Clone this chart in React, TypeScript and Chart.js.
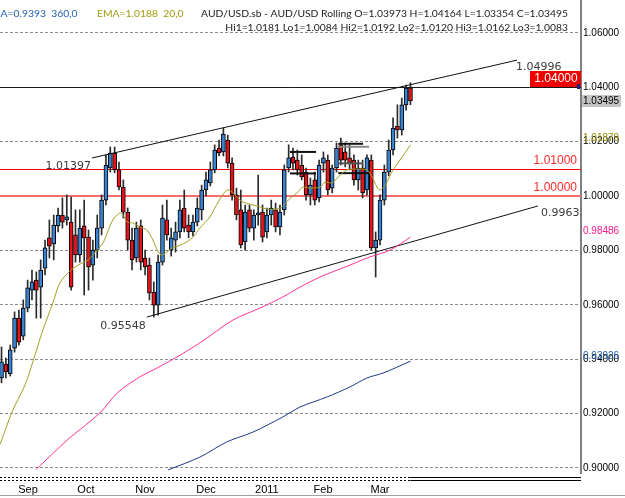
import React, { useEffect, useRef } from 'react';
import { Chart, registerables } from 'chart.js';
Chart.register(...registerables);

// ---- Candles (AUD/USD daily-ish) ----
const opens = [0.9331,0.9382,0.9346,0.9441,0.9551,0.9485,0.9588,0.9654,0.9691,0.9665,
0.9735,0.9846,0.9824,0.9890,0.9930,0.9912,0.9904,0.9857,0.9783,0.9890,
0.9849,0.9746,0.9801,0.9882,0.9985,1.0103,1.0158,1.0096,1.0033,0.9941,
0.9838,0.9772,0.9890,0.9772,0.9746,0.9647,0.9599,0.9757,0.9912,0.9801,
0.9838,0.9868,0.9956,0.9893,0.9868,0.9904,0.9949,1.0022,1.0048,1.0096,
1.0176,1.0162,1.0206,1.0121,1.0004,0.9949,0.9831,0.9949,0.9882,0.9930,
0.9941,0.9868,0.9930,0.9949,0.9886,0.9949,1.0103,1.0143,1.0132,1.0114,
1.0088,1.0004,1.0059,0.9993,1.0121,1.0132,1.0029,1.0103,1.0188,1.0162,
1.0140,1.0132,1.0059,1.0103,1.0022,1.0132,0.9809,0.9838,0.9985,1.0088,
1.0169,1.0257,1.0243,1.0335,1.03973];
const closes = [0.9390,0.9353,0.9434,0.9551,0.9463,0.9588,0.9662,0.9684,0.9654,0.9728,
0.9809,0.9816,0.9893,0.9930,0.9904,0.9923,0.9665,0.9783,0.9882,0.9846,
0.9739,0.9801,0.9882,0.9985,1.0114,1.0158,1.0096,1.0033,0.9941,0.9838,
0.9765,0.9882,0.9757,0.9739,0.9643,0.9599,0.9757,0.9919,0.9857,0.9846,
0.9868,0.9949,0.9882,0.9868,0.9904,0.9956,1.0022,1.0059,1.0096,1.0169,
1.0158,1.0228,1.0121,1.0004,0.9930,0.9820,0.9941,0.9882,0.9930,0.9938,
0.9849,0.9930,0.9956,0.9886,0.9941,1.0096,1.0140,1.0121,1.0096,1.0070,
1.0004,1.0040,0.9985,1.0114,1.0140,1.0022,1.0103,1.0176,1.0132,1.0132,
1.0121,1.0059,1.0103,1.0011,1.0140,0.9809,0.9838,0.9985,1.0088,1.0169,
1.0250,1.0243,1.0335,1.0397,1.03495];
const highs = [0.9445,0.9404,0.9452,0.9574,0.9581,0.9618,0.9691,0.9728,0.9721,0.9765,
0.9838,0.9912,0.9930,0.9956,0.9993,1.0004,0.9996,0.9949,0.9949,0.9985,
0.9875,0.9838,0.9930,1.0004,1.0151,1.0180,1.0180,1.0125,1.0059,0.9956,
0.9882,0.9904,0.9912,0.9801,0.9772,0.9684,0.9783,0.9967,0.9985,0.9882,
0.9904,0.9985,1.0022,0.9930,0.9930,0.9993,1.0040,1.0088,1.0125,1.0188,
1.0206,1.0250,1.0224,1.0140,1.0029,1.0022,0.9967,0.9967,0.9949,1.0077,
0.9967,0.9956,0.9985,0.9974,0.9967,1.0114,1.0188,1.0176,1.0169,1.0151,
1.0103,1.0066,1.0088,1.0132,1.0162,1.0151,1.0114,1.0195,1.0213,1.0195,
1.0188,1.0151,1.0132,1.0132,1.0151,1.0151,0.9868,1.0004,1.0114,1.0206,
1.0287,1.0335,1.0360,1.0408,1.04164];
const lows = [0.9313,0.9331,0.9338,0.9426,0.9452,0.9471,0.9574,0.9618,0.9551,0.9551,
0.9710,0.9772,0.9765,0.9868,0.9882,0.9893,0.9654,0.9757,0.9757,0.9636,
0.9654,0.9691,0.9772,0.9857,0.9967,1.0088,1.0085,1.0022,0.9919,0.9801,
0.9728,0.9757,0.9728,0.9710,0.9618,0.9555,0.9562,0.9746,0.9838,0.9779,
0.9794,0.9846,0.9868,0.9846,0.9853,0.9890,0.9912,1.0000,1.0037,1.0085,
1.0147,1.0147,1.0103,0.9985,0.9912,0.9809,0.9801,0.9868,0.9838,0.9893,
0.9831,0.9846,0.9893,0.9868,0.9857,0.9930,1.0088,1.0096,1.0077,1.0059,
0.9985,0.9967,0.9967,0.9978,1.0088,1.0004,1.0011,1.0088,1.0114,1.0107,
1.0096,1.0040,1.0022,0.9993,1.0004,0.9801,0.9702,0.9820,0.9967,1.0074,
1.0151,1.0213,1.0224,1.0316,1.03354];

// ---- Indicators (index along candle axis, value) ----
const emaIndex = [-0.3,2.6,5.4,7.2,9.5,11.8,13.4,15.7,17.6,19.9,21.0,23.3,24.3,25.6,27.2,27.9,28.9,30.2,31.8,33.4,34.8,36.0,36.9,38.0,39.2,40.6,42.6,44.0,45.6,47.9,49.8,51.8,53.0,54.1,55.5,57.8,59.4,61.0,63.3,64.5,65.9,67.9,69.3,70.9,73.2,74.4,76.0,77.4,79.4,81.7,84.0,85.2,86.3,87.0,88.2,90.0,91.6,94];
const emaValues = [0.9088,0.9213,0.9305,0.9390,0.9507,0.9607,0.9680,0.9724,0.9746,0.9765,0.9783,0.9827,0.9864,0.9912,0.9938,0.9930,0.9904,0.9901,0.9886,0.9875,0.9838,0.9794,0.9783,0.9794,0.9809,0.9816,0.9831,0.9849,0.9882,0.9923,0.9978,1.0022,1.0015,0.9996,0.9978,0.9967,0.9960,0.9952,0.9952,0.9960,0.9985,1.0011,1.0033,1.0029,1.0033,1.0051,1.0048,1.0070,1.0096,1.0099,1.0096,1.0070,1.0033,1.0022,1.0040,1.0096,1.0132,1.01879];
const pinkIndex = [8.0,15.1,22.6,26.6,31.8,35.8,40.3,45.6,53.2,59.4,64.7,68.6,73.2,80.1,84.7,89.3,94];
const pinkValues = [0.8995,0.9103,0.9202,0.9276,0.9335,0.9368,0.9408,0.9460,0.9544,0.9588,0.9629,0.9665,0.9702,0.9746,0.9776,0.9801,0.98486];
const blueIndex = [38.3,45.6,51.8,57.8,64.7,68.6,74.8,80.1,84.0,87.7,94];
const blueValues = [0.8993,0.9040,0.9096,0.9132,0.9188,0.9224,0.9261,0.9298,0.9331,0.9349,0.93926];

// ---- Channel trend lines ----
const upperIdx = [20.8, 118.5];
const upperVal = [1.01397, 1.04996];
const lowerIdx = [33.4, 123.3];
const lowerVal = [0.95548, 0.99633];

// ---- Hi/Lo box levels ----
const hiLoNames = ['Hi1','Lo1','Hi2','Lo2','Hi3','Lo3'];
const hiLoValues = [1.0181, 1.0084, 1.0192, 1.0120, 1.0162, 1.0083];
const hiLoStart = [77.4, 77.4, 77.4, 77.4, 66.3, 66.3];
const hiLoEnd = [84.5, 84.5, 83.1, 83.1, 72.3, 72.3];

// ---- Horizontal levels ----
const alertLevel = 1.04;
const supportLevels = [1.01, 1.00];

// ---- Axes ----
const monthTickIndex = [6.1, 19.4, 33.0, 47.0, 61.0, 73.9, 87.0];
const monthLabels = ['Sep', 'Oct', 'Nov', 'Dec', '2011', 'Feb', 'Mar'];
const yTicks = [0.90, 0.92, 0.94, 0.96, 0.98, 1.00, 1.02, 1.04, 1.06];

const headerMA = 'MA=0.9393  360,0';
const headerEMA = 'EMA=1.0188  20,0';
const headerMain = 'AUD/USD.sb - AUD/USD Rolling O=1.03973 H=1.04164 L=1.03354 C=1.03495';
const headerHiLo = 'Hi1=1.0181 Lo1=1.0084 Hi2=1.0192 Lo2=1.0120 Hi3=1.0162 Lo3=1.0083';

const BLUE = '#3a82d2';
const RED = '#e8141c';
const OLIVE = '#a3a023';
const PINK = '#ff3399';
const NAVY = '#1b3a8c';

const overlay = {
  id: 'overlay',
  beforeDraw(chart: any) {
    const { ctx, width, height } = chart;
    ctx.save();
    ctx.fillStyle = '#fff';
    ctx.fillRect(0, 0, width, height);
    ctx.restore();
  },
  beforeDatasetsDraw(chart: any) {
    const { ctx, chartArea: ca, scales } = chart;
    const y = scales.y;
    ctx.save();
    ctx.setLineDash([]);
    const ay = Math.round(y.getPixelForValue(alertLevel)) + 0.5;
    ctx.strokeStyle = '#1a1a1a';
    ctx.lineWidth = 1;
    ctx.beginPath(); ctx.moveTo(ca.left, ay); ctx.lineTo(ca.right, ay); ctx.stroke();
    const s0 = Math.round(y.getPixelForValue(supportLevels[0])) + 0.5;
    ctx.strokeStyle = 'rgb(255,0,0)';
    ctx.beginPath(); ctx.moveTo(ca.left, s0); ctx.lineTo(ca.right, s0); ctx.stroke();
    const s1 = Math.round(y.getPixelForValue(supportLevels[1]));
    ctx.strokeStyle = '#f36b6b';
    ctx.lineWidth = 2;
    ctx.beginPath(); ctx.moveTo(ca.left, s1); ctx.lineTo(ca.right, s1); ctx.stroke();
    ctx.restore();
  },
  afterDraw(chart: any) {
    const { ctx, chartArea: ca, scales, width } = chart;
    const x = scales.x, y = scales.y;
    ctx.save();

    // channel labels
    ctx.font = '11px "DejaVu Sans"';
    ctx.fillStyle = '#3a3a3a';
    ctx.textBaseline = 'middle';
    ctx.textAlign = 'right';
    ctx.fillText(upperVal[0].toFixed(5), x.getPixelForValue(upperIdx[0]) - 1, y.getPixelForValue(upperVal[0]) + 8);
    ctx.fillText(lowerVal[0].toFixed(5), x.getPixelForValue(lowerIdx[0]) - 1, y.getPixelForValue(lowerVal[0]) + 9);
    ctx.save();
    ctx.beginPath();
    ctx.rect(ca.left, ca.top, ca.right - ca.left, ca.bottom - ca.top);
    ctx.clip();
    ctx.textAlign = 'left';
    ctx.fillText(upperVal[1].toFixed(5), x.getPixelForValue(upperIdx[1]) - 1, y.getPixelForValue(upperVal[1]) + 7);
    ctx.fillText(lowerVal[1].toFixed(5), x.getPixelForValue(lowerIdx[1]) + 3, y.getPixelForValue(lowerVal[1]) + 7);

    // support level labels
    ctx.font = '12px "Liberation Sans"';
    ctx.fillStyle = '#ff2a2a';
    ctx.textAlign = 'right';
    ctx.textBaseline = 'bottom';
    supportLevels.forEach((v) => {
      ctx.fillText(v.toFixed(5), ca.right - 4, y.getPixelForValue(v) - 2);
    });

    // alert box
    const ay = Math.round(y.getPixelForValue(alertLevel));
    ctx.fillStyle = '#f00000';
    ctx.fillRect(ca.right - 51, ay - 16, 51, 16);
    ctx.fillStyle = '#fff';
    ctx.textAlign = 'center';
    ctx.textBaseline = 'middle';
    ctx.fillText(alertLevel.toFixed(5), ca.right - 25, ay - 8);
    ctx.restore();

    ctx.fillStyle = '#1a237e';
    ctx.fillRect(ca.right - 4, ay - 3, 3, 5);

    // axis value labels
    ctx.font = '10px "Liberation Sans"';
    ctx.textAlign = 'left';
    ctx.textBaseline = 'middle';
    const lastClose = closes[closes.length - 1];
    const cy = y.getPixelForValue(lastClose);
    ctx.fillStyle = '#c4c4c4';
    ctx.fillRect(ca.right + 1, cy - 6, 39, 12);
    ctx.fillStyle = '#000';
    ctx.fillText(lastClose.toFixed(5), ca.right + 2, cy);
    const emaLast = emaValues[emaValues.length - 1];
    ctx.fillStyle = '#9a8f00';
    ctx.fillText(emaLast.toFixed(5), ca.right + 2, y.getPixelForValue(emaLast) - 7);
    const pinkLast = pinkValues[pinkValues.length - 1];
    ctx.fillStyle = '#ff1a8c';
    ctx.fillText(pinkLast.toFixed(5), ca.right + 2, y.getPixelForValue(pinkLast) - 6);
    const blueLast = blueValues[blueValues.length - 1];
    ctx.fillStyle = '#1f5fb0';
    ctx.fillText(blueLast.toFixed(5), ca.right + 2, y.getPixelForValue(blueLast) - 5);

    // header texts
    const fam = 'Lato';
    ctx.font = `11px ${fam}`;
    const mw = ctx.measureText(headerMain).width;
    const fs = 11 * 367 / mw;
    ctx.font = `${fs}px ${fam}`;
    ctx.textBaseline = 'middle';
    ctx.textAlign = 'right';
    ctx.fillStyle = '#1a1a1a';
    ctx.fillText(headerMain, 568, 14);
    ctx.fillText(headerHiLo, 568, 28);
    ctx.textAlign = 'left';
    ctx.fillStyle = '#1f5fb0';
    ctx.fillText(headerMA, -9, 14);
    ctx.fillStyle = '#a09a10';
    ctx.fillText(headerEMA, 97, 14);

    // bottom double lines
    const lastX = x.getPixelForValue(opens.length - 1);
    ctx.strokeStyle = '#000';
    ctx.lineWidth = 1;
    ctx.setLineDash([2, 2]);
    [477.5, 480.5].forEach((yy) => {
      ctx.beginPath(); ctx.moveTo(ca.left, yy); ctx.lineTo(lastX, yy); ctx.stroke();
    });
    ctx.setLineDash([]);
    [477.5, 480.5].forEach((yy) => {
      ctx.beginPath(); ctx.moveTo(lastX, yy); ctx.lineTo(ca.right, yy); ctx.stroke();
    });
    ctx.strokeStyle = '#a0a0a0';
    ctx.beginPath(); ctx.moveTo(0, 495.5); ctx.lineTo(width, 495.5); ctx.stroke();
    ctx.restore();
  },
};

export default function App() {
  const ref = useRef<HTMLCanvasElement>(null);
  useEffect(() => {
    const canvas = ref.current!;
    const bodyColors = closes.map((c, i) => (c >= opens[i] ? BLUE : RED));
    const lineDs = (xs: number[], ys: number[], color: string, w = 1, tension = 0.3) => ({
      type: 'line' as const,
      data: xs.map((xv, i) => ({ x: xv, y: ys[i] })),
      borderColor: color,
      borderWidth: w,
      pointRadius: 0,
      tension,
      order: 0,
    });
    const hiLoColors = ['#8a8a8a', '#111', '#111', '#555', '#111', '#111'];
    const chart = new Chart(canvas, {
      type: 'bar',
      data: {
        datasets: [
          lineDs(emaIndex, emaValues, OLIVE),
          lineDs(pinkIndex, pinkValues, PINK),
          lineDs(blueIndex, blueValues, NAVY),
          lineDs(upperIdx, upperVal, '#111', 1, 0),
          lineDs(lowerIdx, lowerVal, '#111', 1, 0),
          ...hiLoNames.map((n, i) => ({
            ...lineDs([hiLoStart[i], hiLoEnd[i]], [hiLoValues[i], hiLoValues[i]], hiLoColors[i], 2, 0),
            label: n,
          })),
          {
            type: 'bar' as const,
            data: opens.map((o, i) => ({ x: i, y: [o, closes[i]] })),
            backgroundColor: bodyColors,
            borderColor: '#000',
            borderWidth: 1,
            borderSkipped: false,
            barThickness: 4,
            grouped: false,
            order: 1,
          },
          {
            type: 'bar' as const,
            data: highs.map((h, i) => ({ x: i, y: [lows[i], h] })),
            backgroundColor: '#2a2a2a',
            borderWidth: 0,
            barThickness: 1,
            grouped: false,
            order: 2,
          },
        ] as any,
      },
      options: {
        animation: false,
        responsive: true,
        maintainAspectRatio: false,
        devicePixelRatio: 1,
        events: [],
        layout: { padding: 0 },
        plugins: { legend: { display: false }, tooltip: { enabled: false }, title: { display: false } },
        scales: {
          x: {
            type: 'linear',
            min: -0.35,
            max: 133.2,
            offset: false,
            grid: { display: false, drawTicks: false },
            border: { display: false },
            afterBuildTicks: (s: any) => { s.ticks = monthTickIndex.map((v) => ({ value: v })); },
            afterFit: (s: any) => { s.height = 25; s.paddingLeft = 0; s.paddingRight = 0; },
            ticks: {
              autoSkip: false,
              maxRotation: 0,
              padding: 10,
              color: '#000',
              font: { family: 'Liberation Sans', size: 11 },
              callback: (_v: any, i: number) => monthLabels[i],
            },
          },
          y: {
            type: 'linear',
            position: 'right',
            min: 0.89816,
            max: 1.07206,
            beginAtZero: false,
            grid: { color: '#8c8c8c', lineWidth: 1, drawTicks: false },
            border: { display: true, color: '#808080', width: 2, dash: [3, 2] },
            afterBuildTicks: (s: any) => { s.ticks = yTicks.map((v) => ({ value: v })); },
            afterFit: (s: any) => { s.width = 44; s.paddingTop = 0; s.paddingBottom = 0; },
            ticks: {
              padding: 2,
              color: '#000',
              font: { family: 'Liberation Sans', size: 10 },
              callback: (v: any) => Number(v).toFixed(5),
            },
          },
        },
      } as any,
      plugins: [overlay],
    });
    return () => chart.destroy();
  }, []);
  return (
    <div style={{ position: 'fixed', left: 0, top: 0, width: 625, height: 498, background: '#fff' }}>
      <canvas ref={ref} />
    </div>
  );
}
